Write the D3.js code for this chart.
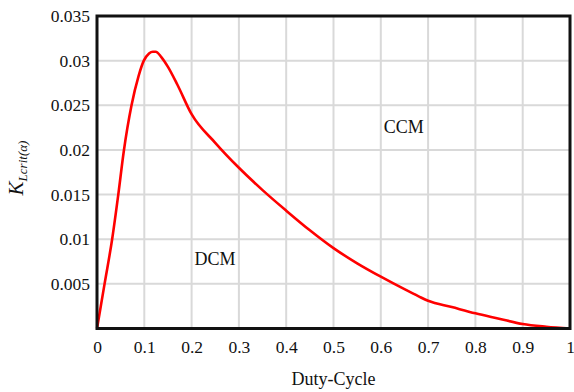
<!DOCTYPE html>
<html>
<head>
<meta charset="utf-8">
<script src="https://cdn.jsdelivr.net/npm/d3@7"></script>
<style>
  html, body { margin: 0; padding: 0; background: #fff; }
  text { font-family: "Liberation Serif", "Times New Roman", serif; fill: #111; }
</style>
</head>
<body>
<svg id="chart" width="574" height="392"></svg>
<script>
// Duty-cycle (x) vs critical K (y)
const dutyCycle = [0, 0.016, 0.032, 0.045, 0.0565, 0.073, 0.088, 0.099, 0.11, 0.118, 0.124, 0.136, 0.15, 0.17, 0.2, 0.25, 0.3, 0.35, 0.4, 0.45, 0.5, 0.55, 0.6, 0.65, 0.68, 0.7, 0.75, 0.8, 0.85, 0.9, 0.95, 1.0];
const kCrit = [0, 0.005, 0.01, 0.015, 0.0198, 0.025, 0.0283, 0.030, 0.0308, 0.031, 0.031, 0.0304, 0.0293, 0.0273, 0.0240, 0.0208, 0.0180, 0.0155, 0.0132, 0.0110, 0.0090, 0.0073, 0.0058, 0.0044, 0.0036, 0.0031, 0.0024, 0.0017, 0.0011, 0.0005, 0.0002, 0];

const xTicks = [0, 0.1, 0.2, 0.3, 0.4, 0.5, 0.6, 0.7, 0.8, 0.9, 1];
const yTicks = [0.005, 0.01, 0.015, 0.02, 0.025, 0.03, 0.035];
const regionLabels = [
  { text: "CCM", x: 0.6, y: 0.0225 },
  { text: "DCM", x: 0.2, y: 0.0077 }
];

const svg = d3.select("#chart");
const plot = { left: 97, right: 570, top: 16, bottom: 328.5 };

const x = d3.scaleLinear().domain([0, 1]).range([plot.left, plot.right]);
const y = d3.scaleLinear().domain([0, 0.035]).range([plot.bottom, plot.top]);

// grid
const grid = svg.append("g").attr("class", "grid");
grid.selectAll("line.v").data(xTicks.slice(1, -1)).join("line")
  .attr("x1", d => x(d)).attr("x2", d => x(d))
  .attr("y1", plot.top).attr("y2", plot.bottom)
  .attr("stroke", "#d9d9d9").attr("stroke-width", 2);
grid.selectAll("line.h").data(yTicks.slice(0, -1)).join("line")
  .attr("x1", plot.left).attr("x2", plot.right)
  .attr("y1", d => y(d)).attr("y2", d => y(d))
  .attr("stroke", "#d9d9d9").attr("stroke-width", 2);

// axes (labels only, no tick marks)
const xAxis = svg.append("g")
  .attr("transform", `translate(0,${plot.bottom})`)
  .call(d3.axisBottom(x).tickValues(xTicks).tickSize(0).tickPadding(12).tickFormat(d3.format("~g")));
const yAxis = svg.append("g")
  .attr("transform", `translate(${plot.left},0)`)
  .call(d3.axisLeft(y).tickValues(yTicks).tickSize(0).tickPadding(7).tickFormat(d3.format("~g")));
[xAxis, yAxis].forEach(a => {
  a.attr("font-family", "Liberation Serif");
  a.select(".domain").remove();
  a.selectAll("text").attr("font-size", 17.5).attr("fill", "#111");
});

// curve
const pts = dutyCycle.map((d, i) => [d, kCrit[i]]);
svg.append("path")
  .datum(pts)
  .attr("fill", "none")
  .attr("stroke", "#ff0000")
  .attr("stroke-width", 2.6)
  .attr("stroke-linejoin", "round")
  .attr("d", d3.line().x(d => x(d[0])).y(d => y(d[1])).curve(d3.curveMonotoneX));

// frame
svg.append("rect")
  .attr("x", plot.left).attr("y", plot.top)
  .attr("width", plot.right - plot.left).attr("height", plot.bottom - plot.top)
  .attr("fill", "none").attr("stroke", "#111").attr("stroke-width", 3);

// region labels
svg.selectAll("text.region").data(regionLabels).join("text")
  .attr("class", "region")
  .attr("x", d => x(d.x) + 3).attr("y", d => y(d.y) + 5)
  .attr("font-size", 18)
  .text(d => d.text);

// axis titles
svg.append("text")
  .attr("x", (plot.left + plot.right) / 2).attr("y", 385)
  .attr("text-anchor", "middle").attr("font-size", 18)
  .text("Duty-Cycle");

const yTitle = svg.append("text")
  .attr("transform", "translate(23,168) rotate(-90)")
  .attr("text-anchor", "middle")
  .attr("font-style", "italic");
yTitle.append("tspan").attr("font-size", 21).text("K");
yTitle.append("tspan").attr("font-size", 13).attr("dy", 4).text("Lcrit(α)");
</script>
</body>
</html>
